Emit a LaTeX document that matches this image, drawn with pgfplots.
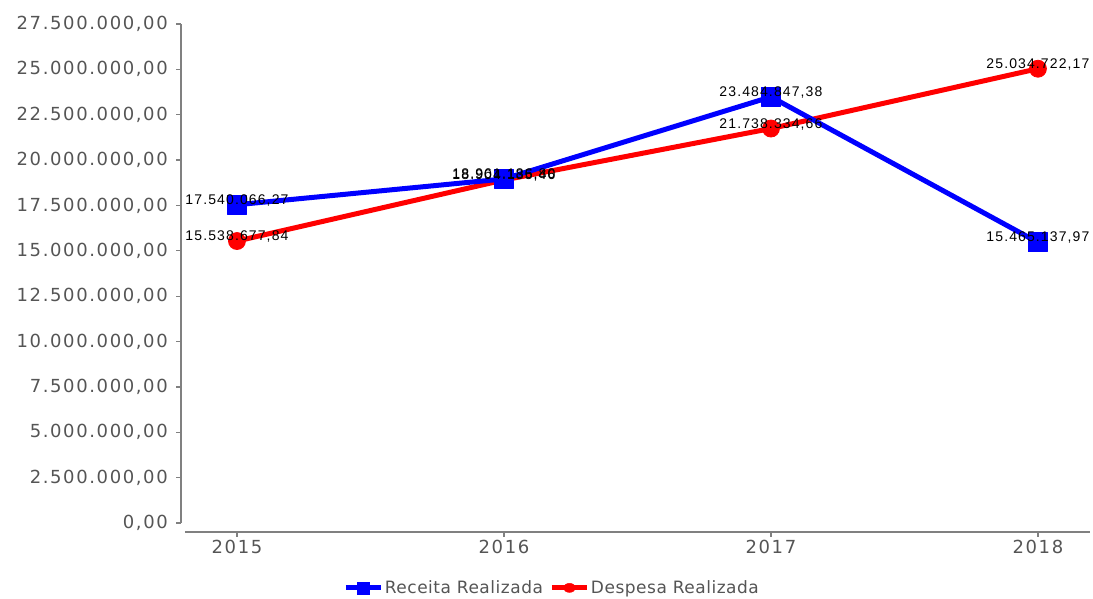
\documentclass[border=0pt]{standalone}
\usepackage{fontspec}
\setmainfont{DejaVu Sans}
\newfontfamily\tickfont{DejaVu Sans}[LetterSpace=9]
\newfontfamily\legfont{DejaVu Sans}[LetterSpace=3]
\newfontfamily\labfont{Liberation Sans}[LetterSpace=8]
\usepackage{pgfplots}
\pgfplotsset{compat=1.18}
\definecolor{axisgray}{RGB}{128,128,128}
\definecolor{ticktext}{RGB}{85,85,85}
\definecolor{recblue}{RGB}{0,0,255}
\definecolor{despred}{RGB}{255,0,0}

\begin{document}
\begin{tikzpicture}
\begin{axis}[
  scale only axis,
  width=909pt, height=508pt,
  xmin=2014.7903, xmax=2018.195,
  ymin=-496000, ymax=27500000,
  axis lines=left,
  axis line style={draw=none},
  tick align=outside,
  major tick length=5pt,
  tick style={draw=axisgray, line width=1.2pt},
  xtick={2015,2016,2017,2018},
  xticklabels={2015,2016,2017,2018},
  ytick={0,2500000,5000000,7500000,10000000,12500000,15000000,17500000,20000000,22500000,25000000,27500000},
  yticklabels={{0,00},{2.500.000,00},{5.000.000,00},{7.500.000,00},{10.000.000,00},{12.500.000,00},{15.000.000,00},{17.500.000,00},{20.000.000,00},{22.500.000,00},{25.000.000,00},{27.500.000,00}},
  yticklabel style={font=\fontsize{18}{21}\tickfont, text=ticktext, inner sep=0pt, anchor=east, xshift=-8pt},
  xticklabel style={font=\fontsize{18}{21}\tickfont, text=ticktext, inner sep=0pt, anchor=north, yshift=-3pt},
  scaled y ticks=false,
  clip=false,
  legend image code/.code={
    \draw[#1, mark=none] (0pt,0pt) -- (35pt,0pt);
    \draw[#1] plot coordinates {(17.5pt,0pt)};
  },
  legend style={at={(axis description cs:0.408,-0.110)}, anchor=center,
    draw=none, fill=none, inner sep=0pt, legend columns=2,
    font=\fontsize{17}{20}\legfont, text=ticktext,
    nodes={inner sep=1.5pt},
    /tikz/every even column/.append style={column sep=5pt}},
  nodes near coords style={font=\fontsize{14}{16}\labfont, text=black, anchor=base, inner sep=0pt, yshift=0.5pt},
]
\addlegendimage{recblue, line width=5pt, mark=square*, mark size=6pt, mark options={line width=0.5pt}}
\addlegendentry{Receita Realizada}
\addlegendimage{despred, line width=5pt, mark=*, mark size=6pt, mark options={line width=0.5pt, yscale=0.75}}
\addlegendentry{Despesa Realizada}

% Despesa Realizada
\addplot[forget plot, despred, line width=5pt, line join=round, mark=*, mark size=8.5pt, mark options={line width=0.8pt}]
  coordinates {(2015,15538677.84) (2016,18904135.46) (2017,21738334.66) (2018,25034722.17)};
% Receita Realizada
\addplot[forget plot, recblue, line width=5pt, line join=round, mark=square*, mark size=9.5pt, mark options={line width=0.8pt}]
  coordinates {(2015,17540066.27) (2016,18961186.80) (2017,23484847.38) (2018,15465137.97)};

% data labels on top
\addplot[forget plot, draw=none, mark=none, point meta=explicit symbolic, nodes near coords]
  coordinates {(2015,15538677.84) [15.538.677,84] (2016,18904135.46) [18.904.135,46]
               (2017,21738334.66) [21.738.334,66] (2018,25034722.17) [25.034.722,17]};
\addplot[forget plot, draw=none, mark=none, point meta=explicit symbolic, nodes near coords]
  coordinates {(2015,17540066.27) [17.540.066,27] (2016,18961186.80) [18.961.186,80]
               (2017,23484847.38) [23.484.847,38] (2018,15465137.97) [15.465.137,97]};
\end{axis}
\draw[axisgray, line width=1.5pt] (0pt,9pt) -- (0pt,508pt);
\draw[axisgray, line width=1.5pt] (4pt,0pt) -- (909pt,0pt);
\pgfresetboundingbox
\path[use as bounding box] (-181pt,-67pt) rectangle (912pt,532pt);
\end{tikzpicture}
\end{document}
